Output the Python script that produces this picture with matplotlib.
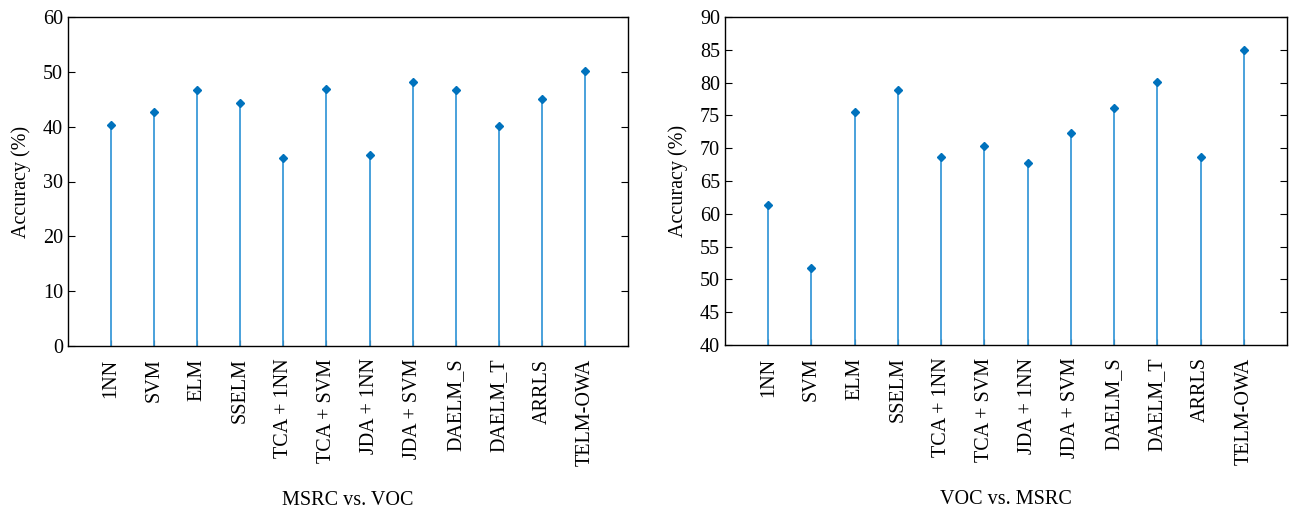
import matplotlib
matplotlib.use("Agg")
from matplotlib import pyplot as plt

methods = ["1NN", "SVM", "ELM", "SSELM", "TCA + 1NN", "TCA + SVM", "JDA + 1NN",
           "JDA + SVM", "DAELM_S", "DAELM_T", "ARRLS", "TELM-OWA"]
msrc_voc = [40.3, 42.7, 46.7, 44.4, 34.2, 46.9, 34.9, 48.1, 46.7, 40.2, 45.1, 50.2]
voc_msrc = [61.4, 51.7, 75.5, 78.8, 68.6, 70.4, 67.8, 72.3, 76.2, 80.1, 68.6, 85.0]

plt.rcParams['font.family'] = ['Liberation Serif', 'DejaVu Serif']
plt.rcParams['font.size'] = 14.5

fig = plt.figure(figsize=(12.91, 5.13), dpi=100)
ax1 = fig.add_axes([68/1291, 1-346/513, 560/1291, 329/513])
ax2 = fig.add_axes([725/1291, 1-345/513, 562/1291, 328/513])

x = list(range(1, len(methods) + 1))

def draw(ax, vals, lo, hi, step, title):
    ax.vlines(x, lo, vals, color="#3a9ad9", lw=1.3, zorder=2)
    ax.plot(x, vals, "D", color="#0072BD", ms=4.5, zorder=3)
    ax.set_xlim(0, 13)
    ax.set_ylim(lo, hi)
    ax.set_yticks(range(lo, hi + 1, step))
    ax.set_xticks(x)
    ax.set_xticklabels(methods, rotation=90)
    ax.tick_params(direction="in", right=True, length=5, width=0.8)
    ax.tick_params(axis="x", length=4, pad=9)
    ax.set_ylabel("Accuracy (%)", labelpad=9)
    ax.set_xlabel(title, labelpad=18)
    for s in ax.spines.values():
        s.set_linewidth(1.0)

draw(ax1, msrc_voc, 0, 60, 10, "MSRC vs. VOC")
draw(ax2, voc_msrc, 40, 90, 5, "VOC vs. MSRC")

fig.savefig("out.png", dpi=100)
